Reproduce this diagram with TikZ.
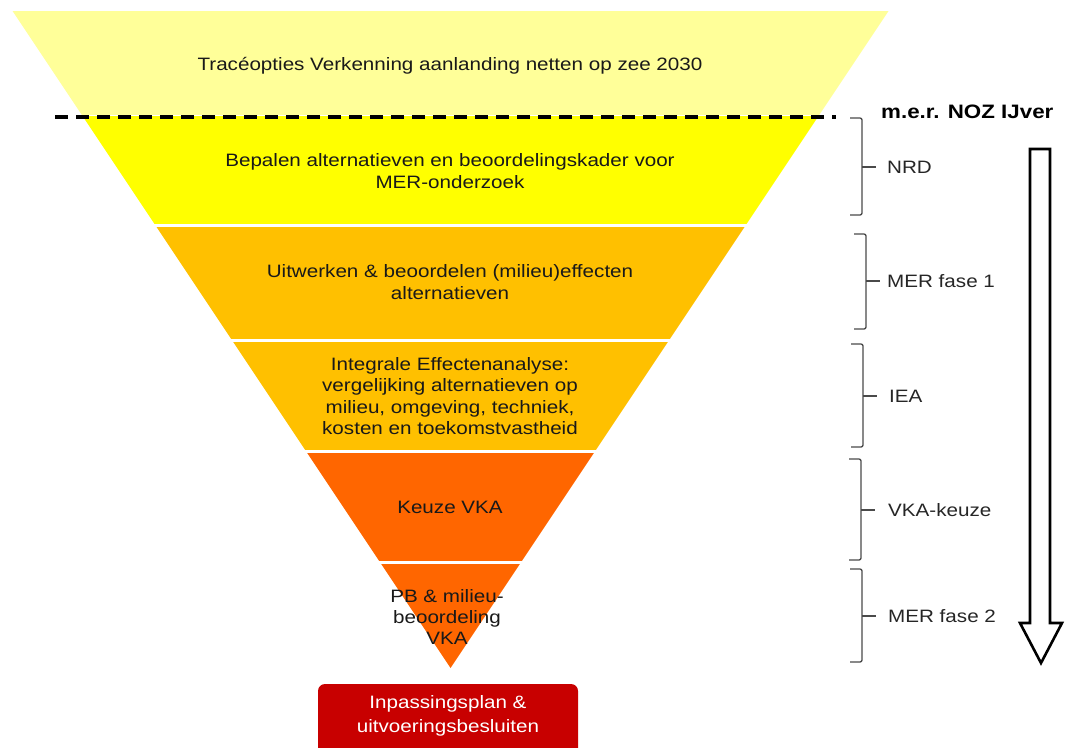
\documentclass[tikz,border=0pt]{standalone}
\usepackage{fontspec}
\setmainfont{Liberation Sans}[FakeStretch=1.15]
\definecolor{bandA}{HTML}{FFFF99}
\definecolor{bandB}{HTML}{FFFF00}
\definecolor{bandC}{HTML}{FFC000}
\definecolor{bandD}{HTML}{FF6600}
\definecolor{redbox}{HTML}{C80000}
\definecolor{brk}{HTML}{4A4A4A}
\begin{document}
\begin{tikzpicture}[x=1bp,y=-1bp,
  bandtext/.style={align=center,font=\fontsize{18}{21.5}\selectfont,text=black!90,inner sep=0pt},
  sidelabel/.style={anchor=west,font=\fontsize{18}{21.5}\selectfont,text=black!85,inner sep=0pt},
  bracketline/.style={draw=brk,line width=1.3bp,rounded corners=2bp},
  flowarrow/.style={draw=black,line width=2.6bp,fill=white,line join=miter}]
\useasboundingbox (0,0) rectangle (1078,748);
\fill[white] (0,0) rectangle (1078,748);
% funnel bands
\begin{scope}
\clip (12.5,11) -- (888.5,11) -- (450.5,668) -- cycle;
\fill[bandA] (0,11) rectangle (1078,115);
\fill[bandB] (0,116) rectangle (1078,224);
\fill[bandC] (0,227) rectangle (1078,339);
\fill[bandC] (0,342) rectangle (1078,450);
\fill[bandD] (0,453) rectangle (1078,561);
\fill[bandD] (0,564) rectangle (1078,670);
\end{scope}
% dashed boundary
\draw[line width=3.4bp,dash pattern=on 13bp off 8bp] (55,117) -- (836,117);
% band texts
\node[bandtext] (t1) at (450,66) {Tracéopties Verkenning aanlanding netten op zee 2030};
\node[bandtext] (t2) at (450,171) {Bepalen alternatieven en beoordelingskader voor\\MER-onderzoek};
\node[bandtext] (t3) at (450,282) {Uitwerken \& beoordelen (milieu)effecten\\alternatieven};
\node[bandtext] (t4) at (450,396) {Integrale Effectenanalyse:\\vergelijking alternatieven op\\milieu, omgeving, techniek,\\kosten en toekomstvastheid};
\node[bandtext] (t5) at (450,507) {Keuze VKA};
\node[bandtext] (t6) at (447,617) {PB \& milieu-\\beoordeling\\VKA};
% result box
\fill[redbox,rounded corners=7bp] (318,684) rectangle (578,770);
\node[bandtext,text=white,font=\fontsize{18}{24}\selectfont] (res) at (448,716) {Inpassingsplan \&\\uitvoeringsbesluiten};
% right side
\node[sidelabel,font=\fontsize{19.5}{21.5}\selectfont\bfseries,text=black] (ttl) at (881,112) {m.e.r. NOZ IJver};
\foreach \bx/\tp/\bt/\md in {862/118/215/167, 866/234/329/281, 863/344/447/396, 861/459/560/510, 862/569/662/616}{
  \draw[bracketline] (\bx-12,\tp) -- (\bx,\tp) -- (\bx,\bt) -- (\bx-12,\bt);
  \draw[bracketline] (\bx,\md) -- (\bx+14,\md);
}
\node[sidelabel] (l1) at (887,167) {NRD};
\node[sidelabel] (l2) at (887,281) {MER fase 1};
\node[sidelabel] (l3) at (889,396) {IEA};
\node[sidelabel] (l4) at (888,510) {VKA-keuze};
\node[sidelabel] (l5) at (888,616) {MER fase 2};
% process arrow
\draw[flowarrow] (1030,149) -- (1050,149) -- (1050,623) -- (1062,623) -- (1041,663) -- (1020,623) -- (1030,623) -- cycle;
\end{tikzpicture}
\end{document}
